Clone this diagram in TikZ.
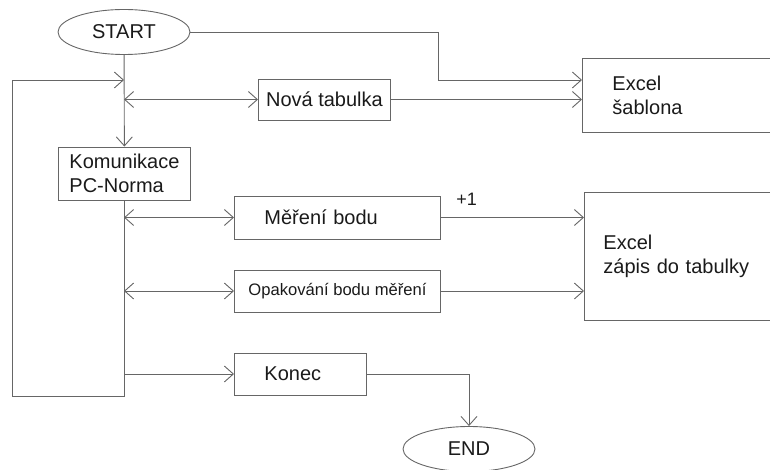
\documentclass[tikz,border=0pt]{standalone}
\usepackage{fontspec}
\setmainfont{Liberation Sans}
\usetikzlibrary{shapes.geometric,arrows.meta}
\newcommand{\boxfont}{\fontsize{20}{24}\selectfont}
\definecolor{linec}{HTML}{666666}
\definecolor{textc}{HTML}{1A1A1A}
\tikzset{
  box/.style={draw=linec, rectangle, anchor=west, align=center, text=textc, font=\boxfont, line width=0.9pt},
  lbox/.style={box, align=left},
  term/.style={draw=linec, ellipse, text=textc, font=\boxfont, line width=0.9pt, minimum width=132pt, minimum height=45pt, inner sep=0pt},
  conn/.style={draw=linec, line width=0.9pt},
  >={Straight Barb[length=9pt,width=16pt]}
}

\begin{document}
\begin{tikzpicture}[x=1pt,y=-1pt]
\useasboundingbox (0,0) rectangle (770,470);
\clip (0,0) rectangle (770,470);

\node[term] (start) at (124,32) {START};
\node[term] (end) at (469,449) {END};
\node[box, minimum width=132pt, minimum height=41pt] (novatab) at (258,99.5) {Nová tabulka};
\node[box, align=left, minimum width=132pt, minimum height=53pt] (komun) at (58,173.5) {Komunikace\\PC-Norma};
\node[lbox, text width=146pt, inner xsep=30pt, minimum height=43pt] (mereni) at (234,217.5) {Měření bodu};
\node[box, minimum width=206pt, minimum height=42pt, font=\fontsize{16.6}{19}\selectfont] (opak) at (234,291) {Opakování bodu měření};
\node[lbox, text width=72pt, inner xsep=30pt, minimum height=42pt] (konec) at (234,374) {Konec};
\node[lbox, text width=148pt, inner xsep=30pt, minimum height=74pt] (sablona) at (582,95) {Excel\\šablona};
\node[lbox, text width=168pt, inner xsep=19pt, minimum height=128pt] (zapis) at (584,256) {Excel\\zápis do tabulky};

\coordinate (j1) at (124,99.5);
\coordinate (j2) at (124,217.5);
\coordinate (j3) at (124,291);
\coordinate (j4) at (124,374);
\coordinate (loopbl) at (12,396);
\coordinate (looptl) at (12,80);
\coordinate (loopin) at (124,80);
\coordinate (bend) at (438,80);

\draw[conn,->] (start) -- (komun);
\draw[conn,->] (komun.south) |- (loopbl) -- (looptl) -- (loopin);
\draw[conn,<->] (j1) -- (novatab);
\draw[conn,->] (novatab) -- (novatab -| sablona.west);
\draw[conn,->] (start) -| (bend) -- (bend -| sablona.west);
\draw[conn,<->] (j2) -- (mereni);
\draw[conn,->] (mereni) -- node[pos=0.18, above=8pt, text=textc, font=\fontsize{18}{22}\selectfont] {+1} (mereni -| zapis.west);
\draw[conn,<->] (j3) -- (opak);
\draw[conn,->] (opak) -- (opak -| zapis.west);
\draw[conn,->] (j4) -- (konec);
\draw[conn,->] (konec) -| (end);
\end{tikzpicture}
\end{document}
